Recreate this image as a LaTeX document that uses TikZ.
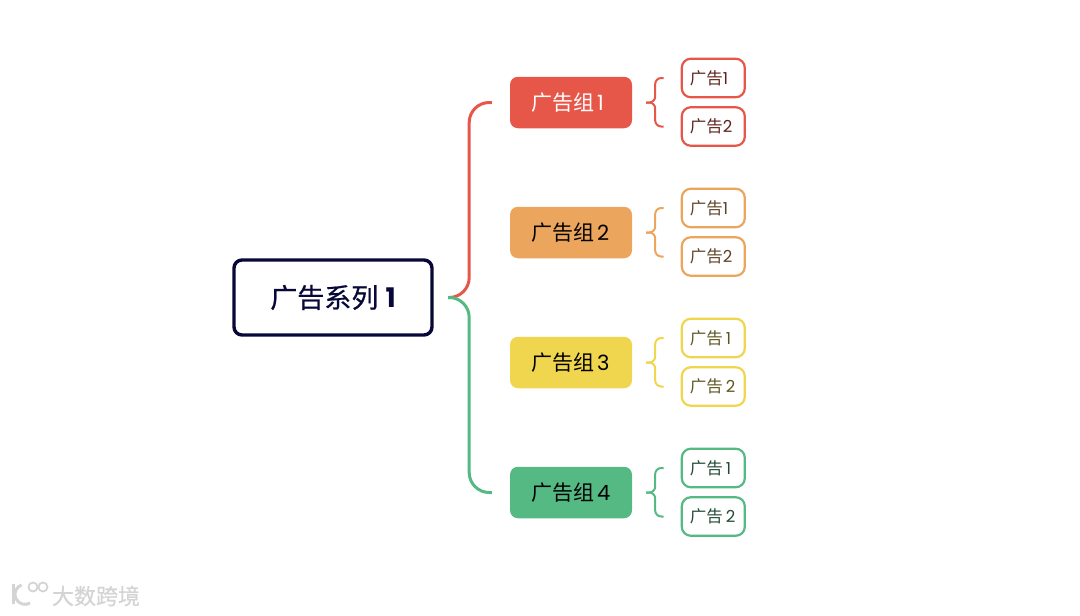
\documentclass[tikz,border=0pt]{standalone}
\usepackage{fontspec}
\setmainfont{Poppins}
\newfontfamily\cjk{Noto Sans CJK SC}
\newfontfamily\cjkm[FakeBold=0.7]{Noto Sans CJK SC}
\definecolor{rojoAd}{RGB}{231,87,73}
\definecolor{naranjaAd}{RGB}{236,165,92}
\definecolor{amarilloAd}{RGB}{240,213,78}
\definecolor{verdeAd}{RGB}{85,185,132}
\definecolor{azulRaiz}{RGB}{8,8,56}
\definecolor{grisMarca}{RGB}{212,212,212}
\usetikzlibrary{positioning}

\begin{document}
\begin{tikzpicture}[
  root/.style={rectangle, draw=azulRaiz, line width=3.4pt, fill=white, rounded corners=8pt,
               minimum width=198pt, minimum height=75pt, text=azulRaiz, font=\fontsize{27}{30}\selectfont},
  grp/.style={rectangle, fill=#1, rounded corners=8pt, minimum width=122pt, minimum height=51.5pt,
              inner sep=0pt, text width=80pt, align=left, font=\fontsize{21}{24}\selectfont},
  leaf/.style={rectangle, draw=#1, fill=white, line width=2.2pt, rounded corners=9pt,
               minimum width=63pt, minimum height=38.5pt, inner sep=0pt, text width=47pt, align=left,
               text=#1!40!black, font=\fontsize{16.5}{18}\selectfont},
  link/.style={draw=#1, line width=3pt, rounded corners=20pt},
  bra/.style={draw=#1, line width=2pt, rounded corners=6pt},
  pin/.style={inner sep=0pt, outer sep=0pt, minimum size=0pt}
]
  \useasboundingbox (0pt,0pt) rectangle (1080pt,-616pt);

  \node[root] (camp) at (333pt,-297.5pt) {{\cjkm 广告系列} \textbf{1}};

  \node[grp=rojoAd, text=white] (g1) at (571pt,-102.5pt) {{\cjk 广告组}\kern3pt 1};
  \node[grp=naranjaAd, text=black, below=78.1pt of g1] (g2) {{\cjk 广告组}\kern3pt 2};
  \node[grp=amarilloAd, text=black, below=78.1pt of g2] (g3) {{\cjk 广告组}\kern3pt 3};
  \node[grp=verdeAd, text=black, below=78.1pt of g3] (g4) {{\cjk 广告组}\kern3pt 4};

  \node[leaf=rojoAd, right=48.5pt of g1, yshift=24.5pt] (a1) {{\cjk 广告}1};
  \node[leaf=rojoAd, below=7.8pt of a1] (a2) {{\cjk 广告}2};
  \node[leaf=naranjaAd, right=48.5pt of g2, yshift=24.5pt] (b1) {{\cjk 广告}1};
  \node[leaf=naranjaAd, below=7.8pt of b1] (b2) {{\cjk 广告}2};
  \node[leaf=amarilloAd, right=48.5pt of g3, yshift=24.5pt] (c1) {{\cjk 广告}\kern3pt 1};
  \node[leaf=amarilloAd, below=7.8pt of c1] (c2) {{\cjk 广告}\kern3pt 2};
  \node[leaf=verdeAd, right=48.5pt of g4, yshift=24.5pt] (d1) {{\cjk 广告}\kern3pt 1};
  \node[leaf=verdeAd, below=7.8pt of d1] (d2) {{\cjk 广告}\kern3pt 2};

  % trunk
  \coordinate[right=14.5pt of camp.east] (hub);
  \coordinate[right=21pt of hub] (trunk);
  \coordinate[left=18pt of g1.west] (g1in);
  \coordinate[left=18pt of g4.west] (g4in);
  \draw[link=rojoAd] (hub) -- (trunk) |- (g1in);
  \draw[link=verdeAd] (hub) -- (trunk) |- (g4in);

  % braces
  \coordinate[right=14pt of g1.east] (g1tip);
  \coordinate[right=9pt of g1tip] (g1mid);
  \coordinate[left=17pt of a1.west] (a1in);
  \coordinate[left=17pt of a2.west] (a2in);
  \draw[bra=rojoAd] (a1in) -| (g1mid) -- (g1tip);
  \draw[bra=rojoAd] (a2in) -| (g1mid) -- (g1tip);

  \coordinate[right=14pt of g2.east] (g2tip);
  \coordinate[right=9pt of g2tip] (g2mid);
  \coordinate[left=17pt of b1.west] (b1in);
  \coordinate[left=17pt of b2.west] (b2in);
  \draw[bra=naranjaAd] (b1in) -| (g2mid) -- (g2tip);
  \draw[bra=naranjaAd] (b2in) -| (g2mid) -- (g2tip);

  \coordinate[right=14pt of g3.east] (g3tip);
  \coordinate[right=9pt of g3tip] (g3mid);
  \coordinate[left=17pt of c1.west] (c1in);
  \coordinate[left=17pt of c2.west] (c2in);
  \draw[bra=amarilloAd] (c1in) -| (g3mid) -- (g3tip);
  \draw[bra=amarilloAd] (c2in) -| (g3mid) -- (g3tip);

  \coordinate[right=14pt of g4.east] (g4tip);
  \coordinate[right=9pt of g4tip] (g4mid);
  \coordinate[left=17pt of d1.west] (d1in);
  \coordinate[left=17pt of d2.west] (d2in);
  \draw[bra=verdeAd] (d1in) -| (g4mid) -- (g4tip);
  \draw[bra=verdeAd] (d2in) -| (g4mid) -- (g4tip);

  % watermark
  \draw[grisMarca, line width=3pt] (13pt,-584pt) -- (13pt,-604pt);
  \draw[grisMarca, line width=3pt] (30pt,-603pt) arc[start angle=-60, end angle=-250, radius=10pt];
  \draw[grisMarca, line width=1.8pt] (33pt,-587pt) circle[radius=4.5pt];
  \draw[grisMarca, line width=1.8pt] (43pt,-587pt) circle[radius=4.5pt];
  \node[text=grisMarca, font=\cjkm\fontsize{22}{24}\selectfont, pin] (mark) at (96pt,-596pt) {大数跨境};
\end{tikzpicture}
\end{document}
